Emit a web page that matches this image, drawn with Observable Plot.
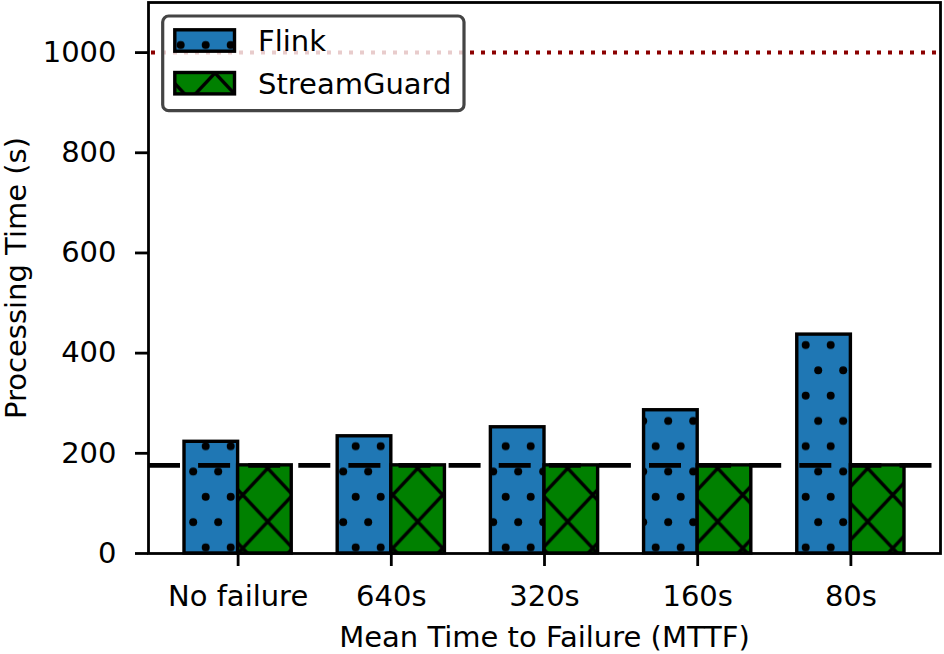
<!DOCTYPE html>
<html>
<head>
<meta charset="utf-8">
<script src="https://cdn.jsdelivr.net/npm/d3@7"></script>
<script src="https://cdn.jsdelivr.net/npm/@observablehq/plot@0.6"></script>
<style>
  html, body { margin: 0; padding: 0; background: white; }
  #chart { position: relative; width: 944px; height: 654px; }
  #chart svg { position: absolute; left: 0; top: 0; }
</style>
</head>
<body>
<div id="chart"></div>
<script>
// ---- data ----
const categories = ["No failure", "640s", "320s", "160s", "80s"];
const seriesNames = ["Flink", "StreamGuard"];
const flinkTimes = [223, 234, 252, 286, 437];
const streamGuardTimes = [176, 176, 176, 176, 176];
const baselineTime = [176];
const deadlineTime = [1000];
const yTicks = [0, 200, 400, 600, 800, 1000];
const xLabel = "Mean Time to Failure (MTTF)";
const yLabel = "Processing Time (s)";

// ---- table ----
const BAR = 0.35;
const rows = categories.flatMap((c, i) => [
  {i, category: c, series: seriesNames[0], value: flinkTimes[i]},
  {i, category: c, series: seriesNames[1], value: streamGuardTimes[i]}
]);
const flinkRows = rows.filter(d => d.series === seriesNames[0]);
const sgRows = rows.filter(d => d.series === seriesNames[1]);

const FONT = "29px";

const plot = Plot.plot({
  width: 944,
  height: 654,
  marginLeft: 148,
  marginRight: 4,
  marginTop: 2,
  marginBottom: 101,
  style: {fontFamily: "DejaVu Sans", fontSize: FONT, color: "black", background: "transparent", overflow: "visible"},
  x: {
    type: "linear",
    domain: [-0.585, categories.length - 1 + 0.585],
    ticks: categories.map((_, i) => i),
    tickFormat: i => categories[i],
    tickSize: 13,
    tickPadding: 19,
    label: xLabel,
    labelAnchor: "center",
    labelOffset: 93,
    labelArrow: "none"
  },
  y: {
    domain: [0, 1100],
    ticks: yTicks,
    tickFormat: d => String(d),
    tickSize: 13,
    tickPadding: 19,
    label: yLabel,
    labelAnchor: "center",
    labelOffset: 143,
    labelArrow: "none"
  },
  marks: [
    Plot.ruleY(deadlineTime, {stroke: "#8b0000", strokeWidth: 4, strokeDasharray: "4,7", strokeDashoffset: -3}),
    Plot.rect(flinkRows, {x1: d => d.i - BAR, x2: d => d.i, y1: 0, y2: "value", fill: "url(#hatch-dots)", stroke: "black", strokeWidth: 3.4}),
    Plot.rect(sgRows, {x1: d => d.i, x2: d => d.i + BAR, y1: 0, y2: "value", fill: "url(#hatch-x)", stroke: "black", strokeWidth: 3.4}),
    Plot.ruleY(baselineTime, {stroke: "black", strokeWidth: 4.6, strokeDasharray: "32,18.1"}),
    Plot.frame({stroke: "black", strokeWidth: 2.8})
  ]
});

const NS = "http://www.w3.org/2000/svg";
function patternDefs(prefix, dotsY, xx, xy) {
  return `
  <pattern id="${prefix}dots" patternUnits="userSpaceOnUse" x="0" y="${dotsY}" width="25" height="50.6">
    <rect width="25" height="50.6" fill="#1f77b4"/>
    <circle cx="5.7" cy="41.4" r="4" fill="black"/>
    <circle cx="18.2" cy="16.1" r="4" fill="black"/>
  </pattern>
  <pattern id="${prefix}x" patternUnits="userSpaceOnUse" x="${xx}" y="${xy}" width="50" height="53.3">
    <rect width="50" height="53.3" fill="green"/>
    <path d="M-50,-53.3L100,106.6M0,-53.3L150,106.6M-100,-53.3L50,106.6M-50,106.6L100,-53.3M0,106.6L150,-53.3M-100,106.6L50,-53.3" stroke="black" stroke-width="3.4" fill="none"/>
  </pattern>`;
}
const svgs = plot.tagName.toLowerCase() === "svg" ? [plot] : Array.from(plot.querySelectorAll("svg"));
const main = svgs[svgs.length - 1];
const defs = document.createElementNS(NS, "defs");
defs.innerHTML = patternDefs("hatch-", 0, -7.3, 15.25);
main.insertBefore(defs, main.firstChild);
d3.select(main).selectAll('[aria-label$="tick"]').attr("stroke-width", 2.8);

document.getElementById("chart").appendChild(plot);

// ---- legend overlay (inside plot area, upper left) ----
const leg = d3.select("#chart").append("svg")
  .attr("width", 944).attr("height", 654)
  .style("font-family", "DejaVu Sans").style("font-size", FONT);
leg.append("defs").html(patternDefs("leg-", 3.6, -10, 46.35));
leg.append("rect")
  .attr("x", 162.7).attr("y", 16).attr("width", 301.3).attr("height", 94.7)
  .attr("rx", 6).attr("fill", "rgba(255,255,255,0.8)")
  .attr("stroke", "#444").attr("stroke-width", 3.2);
const fills = ["url(#leg-dots)", "url(#leg-x)"];
seriesNames.forEach((name, k) => {
  const y0 = 29.8 + k * 42.7;
  leg.append("rect").attr("x", 174.8).attr("y", y0).attr("width", 59.7).attr("height", 21.4)
    .attr("fill", fills[k]).attr("stroke", "black").attr("stroke-width", 3.4);
  leg.append("text").attr("x", 258).attr("y", y0 + 10.7).attr("dy", "0.36em")
    .attr("fill", "black").text(name);
});
</script>
</body>
</html>
